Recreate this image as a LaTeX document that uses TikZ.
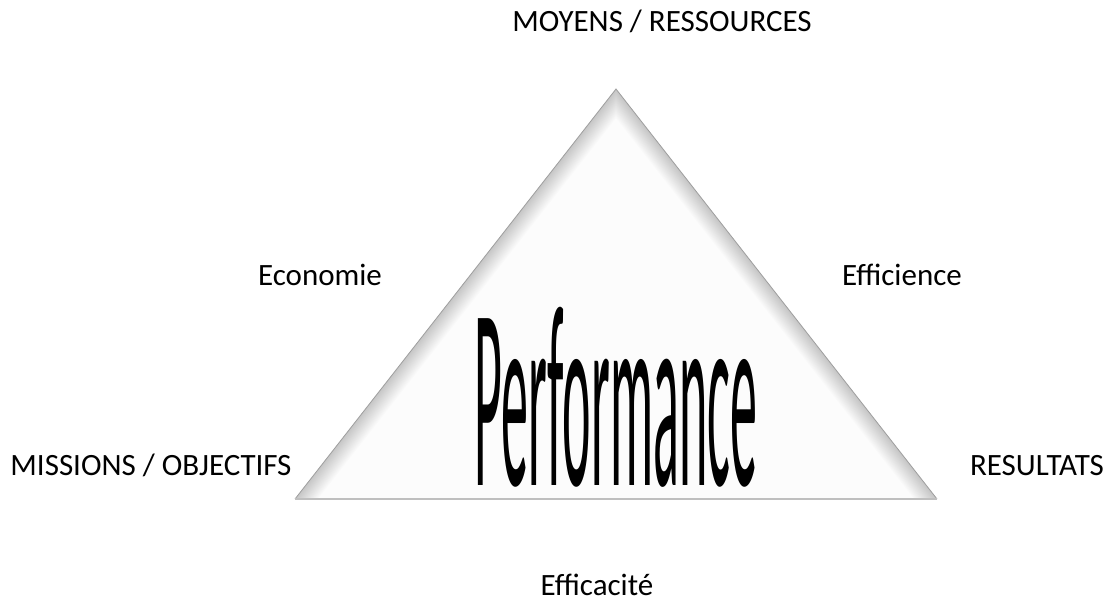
\documentclass[tikz,border=0pt]{standalone}
\usepackage{fontspec}
\usepackage{graphicx}
\setmainfont{Carlito}
\begin{document}
\begin{tikzpicture}[x=1pt,y=-1pt,
  lbl/.style={font=\fontsize{31}{37}\selectfont, inner sep=0pt, anchor=base, text=black}]
\useasboundingbox (0,0) rectangle (1112,604);
\coordinate (A) at (616,89);
\coordinate (L) at (295,499);
\coordinate (R) at (937,499);
\begin{scope}
  \clip (A)--(L)--(R)--cycle;
  \fill[gray!2] (A)--(L)--(R)--cycle;
  \foreach \w in {2,4,...,36}{
    \draw[line width=\w pt, black, opacity=0.011, line join=miter] (L)--(A)--(R);
  }
\end{scope}
\draw[gray!75, line width=0.8pt, line join=miter] (L)--(A)--(R);
\draw[gray!50, line width=1.4pt] (L)--(R);
\node[inner sep=0pt, anchor=base] (perf) at (616,485)
  {\resizebox{282pt}{178pt}{Performance}};
\node[lbl] (moy) at (662,32) {MOYENS / RESSOURCES};
\node[lbl] (eco) at (320,286) {Economie};
\node[lbl] (eff) at (902,286) {Efficience};
\node[lbl] (mis) at (151,475) {MISSIONS / OBJECTIFS};
\node[lbl] (res) at (1037,475) {RESULTATS};
\node[lbl] (efc) at (597,595) {Efficacité};
\end{tikzpicture}
\end{document}
